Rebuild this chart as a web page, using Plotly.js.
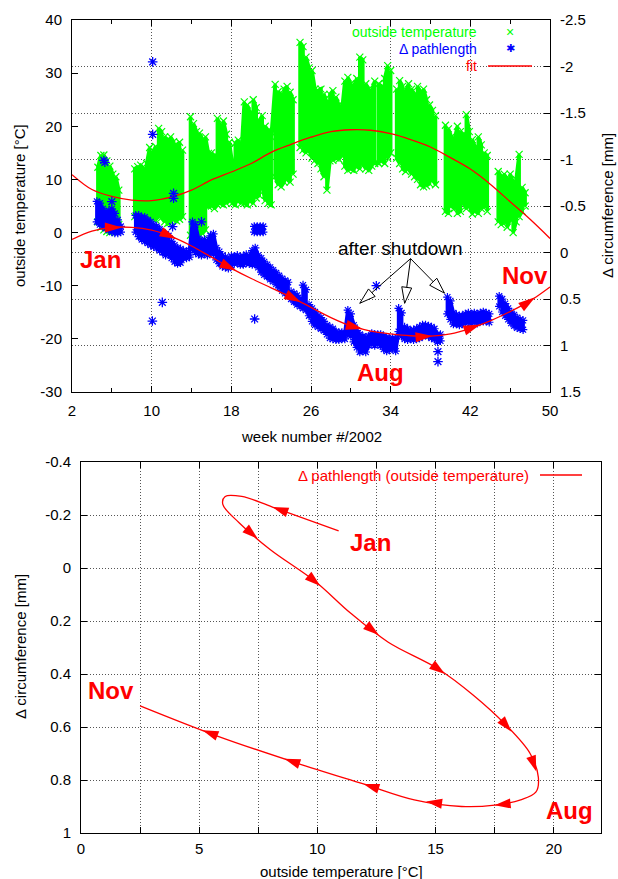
<!DOCTYPE html>
<html><head><meta charset="utf-8">
<script src="https://cdn.plot.ly/plotly-3.0.1.min.js"></script>
<style>html,body{margin:0;padding:0;background:#fff}#chart{width:618px;height:879px}</style>
</head><body><div id="chart"></div>
<script>
// ---------------- data ----------------
// fitted curves, sampled every 2 weeks
const fitWeeks = [2,4,6,8,10,12,14,16,18,20,22,24,26,28,30,32,34,36,38,40,42,44,46,48,50];
const fitTemp  = [10.9,8.1,6.8,6.1,6.0,6.7,8.0,9.9,11.4,13.0,15.1,16.6,17.95,19.0,19.35,19.25,18.6,17.5,16.1,14.1,11.95,9.1,5.8,2.5,-1.1];
const fitPath  = [-0.14,-0.23,-0.27,-0.27,-0.24,-0.17,-0.07,0.05,0.17,0.28,0.38,0.48,0.59,0.70,0.79,0.845,0.875,0.895,0.90,0.875,0.815,0.735,0.635,0.52,0.37];
const loopLastWeek = 48;

// outside temperature: daily low / high columns
const tempWeeks = [4.6,4.9,5.2,5.5,5.8,6.1,6.4,6.7,
 8.3,8.6,8.9,9.2,9.5,9.8,10.1,10.4,10.7,11.0,11.3,11.6,11.9,12.2,12.5,12.8,13.1,
 13.9,14.2,14.5,14.8,15.1,15.4,15.7,16.0,16.3,16.6,16.9,17.2,17.5,17.8,
 18.1,18.4,18.7,19.0,19.3,19.6,19.9,20.2,20.5,20.8,21.1,21.4,21.7,22.0,22.4,22.7,23.0,23.3,23.6,23.9,24.2,
 24.9,25.2,25.5,25.8,26.1,26.4,26.7,27.0,27.3,27.6,27.9,28.2,28.5,28.8,29.1,29.4,29.7,30.0,30.3,30.6,30.9,31.2,31.5,31.8,32.1,32.4,32.8,33.1,33.4,33.7,34.0,
 34.6,34.9,35.2,35.5,35.8,36.1,36.4,36.7,37.0,37.3,37.6,37.9,38.2,38.5,
 39.5,39.8,40.1,40.4,40.7,41.0,41.3,41.6,41.9,42.2,42.5,42.8,43.1,43.4,43.7,
 44.8,45.1,45.4,45.7,46.0,46.3,46.6,46.9,47.2,47.5];
const tempLow = [2.0,1.0,0.5,0.2,0.0,0.5,1.0,1.5,
 3.0,2.8,3.0,2.5,2.6,2.4,2.6,2.4,3.0,2.8,2.0,1.7,2.0,2.4,2.2,2.5,3.0,
 -0.5,-0.8,-0.5,-0.8,-0.2,0.5,4.9,5.0,4.5,5.2,5.5,5.2,5.5,6.0,
 5.5,5.2,6.0,5.5,5.5,5.2,6.0,5.5,6.5,7.0,8.6,6.0,5.5,5.2,10.5,9.0,8.6,9.5,10.0,9.5,11.0,
 16.0,15.5,15.0,15.5,14.0,13.6,13.0,12.0,10.5,8.0,13.5,13.6,14.0,13.8,14.5,12.5,11.7,12.0,11.7,12.5,12.0,13.0,12.0,11.7,12.5,13.0,13.0,13.5,13.0,14.0,15.0,
 14.0,13.0,12.0,11.5,12.0,11.0,10.5,10.0,9.0,8.6,8.8,9.2,10.0,9.0,
 4.0,3.6,5.0,4.5,3.6,4.0,5.5,4.5,5.0,3.5,4.0,3.6,4.5,5.0,4.0,
 2.0,1.5,2.0,1.0,2.5,0.0,2.0,3.0,4.0,5.0];
const tempHigh = [12.3,14.5,14.6,13.5,12.5,11.0,10.5,8.0,
 12.0,12.4,12.7,12.0,13.0,16.0,15.0,16.2,19.6,19.0,18.0,17.5,18.0,17.1,16.5,17.0,15.5,
 21.8,20.5,19.0,18.7,17.5,18.0,14.9,15.0,14.5,21.5,20.0,21.0,18.5,17.0,
 13.0,16.8,17.4,15.0,24.6,24.0,22.5,25.0,23.5,21.0,22.0,20.0,19.2,18.0,27.9,26.5,26.0,27.0,27.5,26.4,25.0,
 35.8,35.0,33.0,31.0,30.5,27.0,26.7,27.0,26.0,24.5,26.0,26.7,25.5,24.0,23.0,28.5,29.2,28.0,27.5,29.0,33.0,32.5,28.0,27.0,26.5,28.5,28.0,27.5,29.0,31.4,30.5,
 27.0,28.6,27.5,26.5,28.0,27.0,26.0,27.5,26.5,27.0,25.0,24.0,23.0,22.0,
 20.2,19.5,18.0,17.5,20.0,19.0,18.5,22.2,19.0,17.5,16.0,18.0,16.5,15.0,14.5,
 11.5,10.5,11.0,10.0,11.0,9.5,10.0,14.7,8.5,7.5];

// delta pathlength (mm on the circumference axis): low / high columns
const pathWeeks = [4.5,4.8,5.1,5.4,5.7,6.0,6.3,6.6,6.9,
 8.4,8.7,9.0,9.3,9.6,9.9,10.2,10.5,10.8,11.1,11.4,11.7,12.0,12.3,12.6,12.9,13.2,13.5,13.8,
 14.1,14.4,14.7,15.0,15.3,15.6,15.9,16.2,16.5,16.8,17.1,17.4,17.7,18.0,18.3,18.6,18.9,19.2,19.5,19.8,20.1,20.4,20.7,
 21.0,21.3,21.6,21.9,22.2,22.5,22.8,23.1,23.4,23.7,24.0,24.3,24.6,24.9,25.2,25.5,25.8,26.1,26.4,26.7,27.0,27.3,27.6,27.9,28.2,28.5,28.8,29.1,29.4,
 29.7,30.0,30.3,30.6,30.9,31.2,31.5,31.8,32.1,32.4,32.7,33.0,33.3,33.6,33.9,34.2,34.5,
 34.8,35.1,35.4,35.7,36.0,36.3,36.6,36.9,37.2,37.5,37.8,38.1,38.4,38.7,39.0,
 39.7,40.0,40.3,40.6,40.9,41.2,41.5,41.8,42.1,42.4,42.7,43.0,43.3,43.6,43.9,
 44.9,45.2,45.5,45.8,46.1,46.4,46.7,47.0,47.3];
const pathLow = [-0.55,-0.53,-0.47,-0.43,-0.45,-0.47,-0.42,-0.35,-0.28,
 -0.40,-0.40,-0.38,-0.38,-0.35,-0.33,-0.30,-0.28,-0.25,-0.22,-0.20,-0.18,-0.12,-0.08,-0.05,-0.04,-0.02,-0.01,-0.02,
 -0.33,-0.30,-0.15,-0.12,-0.14,-0.12,-0.18,-0.20,-0.05,-0.01,0.03,0.05,0.08,0.04,0.04,0.03,0.05,0.04,0.02,0.05,-0.02,-0.05,0.03,
 0.06,0.10,0.13,0.16,0.19,0.22,0.25,0.28,0.30,0.32,0.42,0.44,0.46,0.50,0.35,0.40,0.56,0.60,0.64,0.68,0.70,0.74,0.78,0.80,0.82,0.85,0.86,0.86,0.87,
 0.62,0.66,0.78,0.84,0.88,0.90,0.92,0.90,0.87,0.88,0.88,0.88,0.90,0.91,0.93,0.92,0.93,
 0.60,0.65,0.80,0.82,0.84,0.83,0.82,0.80,0.78,0.78,0.79,0.80,0.82,0.88,0.88,
 0.48,0.52,0.65,0.67,0.68,0.68,0.66,0.65,0.66,0.65,0.66,0.65,0.64,0.65,0.66,
 0.47,0.50,0.55,0.60,0.64,0.67,0.70,0.72,0.73];
const pathHigh = [-0.33,-0.30,-0.28,-0.26,-0.24,-0.22,-0.21,-0.21,-0.22,
 -0.22,-0.17,-0.14,-0.12,-0.10,-0.08,-0.06,-0.05,-0.02,0.00,0.03,0.02,0.06,0.10,0.12,0.11,0.06,0.06,0.05,
 -0.05,0.00,0.02,0.03,0.01,0.03,0.00,0.02,0.08,0.12,0.15,0.16,0.17,0.14,0.12,0.11,0.13,0.13,0.11,0.12,0.13,0.13,0.16,
 0.21,0.24,0.26,0.29,0.31,0.34,0.38,0.41,0.44,0.46,0.50,0.53,0.56,0.58,0.60,0.62,0.68,0.74,0.78,0.80,0.82,0.84,0.88,0.92,0.93,0.94,0.94,0.93,0.93,
 0.88,0.90,0.96,1.02,1.07,1.06,1.07,1.00,0.98,1.00,0.98,1.00,1.04,1.06,1.05,1.03,1.06,
 0.85,0.90,0.93,0.94,0.93,0.94,0.93,0.92,0.90,0.89,0.90,0.92,0.93,0.96,0.95,
 0.66,0.72,0.77,0.77,0.78,0.77,0.76,0.75,0.76,0.75,0.76,0.74,0.74,0.74,0.75,
 0.58,0.64,0.68,0.72,0.76,0.79,0.81,0.82,0.83];
// separate short block and isolated points
const blockWeeks = [20.3,20.6,20.9,21.2];
const blockLow   = [-0.28,-0.28,-0.28,-0.28];
const blockHigh  = [-0.22,-0.22,-0.22,-0.22];
const pathOutWeeks = [5.2,5.3,6.0,10.1,10.1,10.07,11.07,12.1,12.2,12.2,15.0,20.34,32.56,38.75,38.75];
const pathOutVals  = [-0.99,-0.97,-0.547,-2.05,-1.27,0.737,0.536,-0.278,-0.636,-0.583,-0.33,0.715,0.357,1.066,1.174];

// arrow marks along the fitted curve (week at which each head sits)
const topArrowWeeks = [7,12.5,18.5,25,31.2,38.2,43,48.5];
const loopArrowWeeks = [4,13.2,16.3,19.5,22.4,26.5,29.5,36,39.5,42,44.3,46.4];

// tick labels
const weekTicks = [2,10,18,26,34,42,50];
const tempTicks = [-30,-20,-10,0,10,20,30,40];
const tempTickText = ['-30','-20','-10','0','10','20','30','40'];
const circTicks = [-2.5,-2,-1.5,-1,-0.5,0,0.5,1,1.5];
const circTickText = ['-2.5','-2','-1.5','-1','-0.5','0','0.5','1','1.5'];
const loopXTicks = [0,2.5,5,7.5,10,12.5,15,17.5,20];
const loopXTickText = ['0','','5','','10','','15','','20'];
const loopYTicks = [-0.4,-0.2,0,0.2,0.4,0.6,0.8,1];
const loopYTickText = ['-0.4','-0.2','0','0.2','0.4','0.6','0.8','1'];

// ---------------- geometry / helpers ----------------
const W = 618, H = 879;
const TOP = {l:72, r:550, t:20, b:392};
const BOT = {l:81, r:601, t:462, b:833};
const FONT = 'Liberation Sans, Arial, Helvetica, sans-serif';
const RED = '#ff0000', GREEN = '#00ff00', BLUE = '#0000ff';
const px = v => v / W, py = v => 1 - v / H;

function zigzag(ws, lo, hi, gap) {
  const x = [], y = [];
  for (let i = 0; i < ws.length; i++) {
    if (i > 0 && ws[i] - ws[i-1] > gap) { x.push(null); y.push(null); }
    const a = i % 2 ? hi[i] : lo[i], b = i % 2 ? lo[i] : hi[i];
    x.push(ws[i], ws[i]); y.push(a, b);
  }
  return {x, y};
}
function at(arr, w) {
  let i = 0;
  while (i < fitWeeks.length - 2 && fitWeeks[i+1] < w) i++;
  const t = (w - fitWeeks[i]) / (fitWeeks[i+1] - fitWeeks[i]);
  return arr[i] * (1 - t) + arr[i+1] * t;
}
// triangle path in pixel units relative to the tip (y up), direction given in screen px
function headPath(dxs, dys, L, Wd) {
  const len = Math.hypot(dxs, dys) || 1, ux = dxs / len, uy = dys / len;
  const bx = -L * ux, by = -L * uy, pxp = -uy, pyp = ux, h = Wd / 2;
  const c1 = [bx + h * pxp, by + h * pyp], c2 = [bx - h * pxp, by - h * pyp];
  return 'M0,0L' + c1[0].toFixed(2) + ',' + (-c1[1]).toFixed(2) + 'L' + c2[0].toFixed(2) + ',' + (-c2[1]).toFixed(2) + 'Z';
}
function curveHead(xref, yref, xs, ys, w, kx, ky, L, Wd) {
  const xa = at(xs, w - 0.5), ya = at(ys, w - 0.5), xb = at(xs, w + 0.5), yb = at(ys, w + 0.5);
  return {type:'path', xref, yref, xsizemode:'pixel', ysizemode:'pixel',
    xanchor: at(xs, w), yanchor: at(ys, w), path: headPath((xb - xa) * kx, (yb - ya) * ky, L, Wd),
    fillcolor: RED, line:{width:0}, layer:'above'};
}

const kxTop = (TOP.r - TOP.l) / 48, kyCirc = (TOP.b - TOP.t) / 4, kyTemp = -(TOP.b - TOP.t) / 70;
const kxBot = (BOT.r - BOT.l) / 22, kyBot = (BOT.b - BOT.t) / 1.4;

// ---------------- traces ----------------
const g = zigzag(tempWeeks, tempLow, tempHigh, 0.45);
const b = zigzag(pathWeeks, pathLow, pathHigh, 0.45);
const bb = zigzag(blockWeeks, blockLow, blockHigh, 0.45);
const loopIdx = fitWeeks.filter(w => w <= loopLastWeek).length;

const traces = [
  {x: g.x, y: g.y, xaxis:'x', yaxis:'y', mode:'lines+markers', connectgaps:false,
   line:{color:GREEN, width:3.6}, marker:{symbol:'x-thin-open', size:7, color:GREEN, line:{width:1.2}}, showlegend:false},
  {x: fitWeeks, y: fitTemp, xaxis:'x', yaxis:'y', mode:'lines', line:{color:RED, width:1.3, shape:'spline', smoothing:1}, showlegend:false},
  {x: b.x, y: b.y, xaxis:'x', yaxis:'y2', mode:'lines+markers', connectgaps:false,
   line:{color:BLUE, width:3.6}, marker:{symbol:'asterisk-open', size:7, color:BLUE, line:{width:1.2}}, showlegend:false},
  {x: bb.x, y: bb.y, xaxis:'x', yaxis:'y2', mode:'lines+markers',
   line:{color:BLUE, width:3.6}, marker:{symbol:'asterisk-open', size:7, color:BLUE, line:{width:1.2}}, showlegend:false},
  {x: pathOutWeeks, y: pathOutVals, xaxis:'x', yaxis:'y2', mode:'markers',
   marker:{symbol:'asterisk-open', size:8, color:BLUE, line:{width:1.3}}, showlegend:false},
  {x: fitWeeks, y: fitPath, xaxis:'x', yaxis:'y2', mode:'lines', line:{color:RED, width:1.3, shape:'spline', smoothing:1}, showlegend:false},
  {x: fitTemp.slice(0, loopIdx), y: fitPath.slice(0, loopIdx), xaxis:'x2', yaxis:'y3', mode:'lines',
   line:{color:RED, width:1.3, shape:'spline', smoothing:1}, showlegend:false}
];

// ---------------- shapes ----------------
const shapes = [];
topArrowWeeks.forEach(w => shapes.push(curveHead('x', 'y2', fitWeeks, fitPath, w, kxTop, kyCirc, 17, 10)));
loopArrowWeeks.forEach(w => shapes.push(curveHead('x2', 'y3', fitTemp, fitPath, w, kxBot, kyBot, 16, 10)));
// "after shutdown" pointers (hollow heads)
const shutStart = [36.0, -4.9];
const shutTips = [[30.9, -13.3], [35.4, -13.3], [39.4, -11.4]];
shutTips.forEach(t => {
  shapes.push({type:'line', xref:'x', yref:'y', x0: shutStart[0], y0: shutStart[1], x1: t[0], y1: t[1], line:{color:'#000', width:1}, layer:'above'});
  shapes.push({type:'path', xref:'x', yref:'y', xsizemode:'pixel', ysizemode:'pixel', xanchor: t[0], yanchor: t[1],
    path: headPath((t[0] - shutStart[0]) * kxTop, (t[1] - shutStart[1]) * kyTemp, 16, 10),
    fillcolor:'#fff', line:{color:'#000', width:1}, layer:'above'});
});
// legend samples
shapes.push({type:'line', xref:'paper', yref:'paper', x0: px(488), x1: px(532), y0: py(66), y1: py(66), line:{color:RED, width:1.3}});
shapes.push({type:'line', xref:'paper', yref:'paper', x0: px(540), x1: px(582), y0: py(475), y1: py(475), line:{color:RED, width:1.3}});

// ---------------- annotations ----------------
const ann = [];
function txt(x, y, text, opt) {
  ann.push(Object.assign({x, y, text, showarrow:false, xanchor:'center', yanchor:'middle', borderpad:0,
    font:{family:FONT, size:15, color:'#000'}}, opt || {}));
}
// axis titles
txt(px(19), py(206), 'outside temperature [°C]', {xref:'paper', yref:'paper', textangle:-90});
txt(px(607), py(206), 'Δ circumference [mm]', {xref:'paper', yref:'paper', textangle:-90});
txt(px(311), py(436), 'week number #/2002', {xref:'paper', yref:'paper'});
txt(px(20), py(647), 'Δ circumference [mm]', {xref:'paper', yref:'paper', textangle:-90});
txt(px(341), py(871), 'outside temperature [°C]', {xref:'paper', yref:'paper'});
// legends
const legFont = c => ({family:FONT, size:14, color:c});
txt(px(478), py(32), 'outside temperature', {xref:'paper', yref:'paper', xanchor:'right', font:legFont(GREEN)});
txt(px(478), py(49), 'Δ pathlength', {xref:'paper', yref:'paper', xanchor:'right', font:legFont(BLUE)});
txt(px(478), py(66), 'fit', {xref:'paper', yref:'paper', xanchor:'right', font:legFont(RED)});
txt(px(510), py(32), '×', {xref:'paper', yref:'paper', font:legFont(GREEN)});
txt(px(510), py(49), '✱', {xref:'paper', yref:'paper', font:{family:'DejaVu Sans', size:11, color:BLUE}});
txt(px(530), py(475), 'Δ pathlength (outside temperature)', {xref:'paper', yref:'paper', xanchor:'right', font:{family:FONT, size:15, color:RED}});
// month labels
const bold = {family:'Liberation Sans, Arial, sans-serif', size:24, color:RED, weight:'bold'};
txt(4.9, -5.0, '<b>Jan</b>', {xref:'x', yref:'y', font:bold});
txt(33.0, -26.3, '<b>Aug</b>', {xref:'x', yref:'y', font:bold});
txt(47.5, -8.0, '<b>Nov</b>', {xref:'x', yref:'y', font:bold});
txt(35.0, -3.0, 'after shutdown', {xref:'x', yref:'y', font:{family:FONT, size:19, color:'#000'}});
txt(12.25, -0.098, '<b>Jan</b>', {xref:'x2', yref:'y3', font:bold});
txt(1.25, 0.463, '<b>Nov</b>', {xref:'x2', yref:'y3', font:bold});
txt(20.67, 0.916, '<b>Aug</b>', {xref:'x2', yref:'y3', font:bold});

// ---------------- layout ----------------
const tickFont = {family:FONT, size:15, color:'#000'};
const gridStyle = {gridcolor:'#555', griddash:'1px,2px', gridwidth:1};
const layout = {
  width: W, height: H, margin:{l:0, r:0, t:0, b:0}, paper_bgcolor:'#fff', plot_bgcolor:'#fff',
  showlegend:false, font:{family:FONT},
  xaxis: Object.assign({domain:[px(TOP.l), px(TOP.r)], anchor:'y', range:[2,50], tickmode:'array', tickvals:weekTicks,
    ticks:'inside', ticklen:6, tickcolor:'#000', showline:true, linecolor:'#000', linewidth:1, mirror:'ticks',
    showgrid:true, zeroline:false, tickfont:tickFont, ticklabelstandoff:5,
    minor:{tickmode:'linear', tick0:6, dtick:8, ticks:'inside', ticklen:4, tickcolor:'#000', showgrid:false}}, gridStyle),
  yaxis: {domain:[py(TOP.b), py(TOP.t)], anchor:'x', range:[-30,40], tickmode:'array', tickvals:tempTicks, ticktext:tempTickText,
    ticks:'inside', ticklen:6, tickcolor:'#000', showline:true, linecolor:'#000', linewidth:1, showgrid:false, zeroline:false,
    tickfont:tickFont, ticklabelstandoff:6},
  yaxis2: Object.assign({overlaying:'y', side:'right', anchor:'x', range:[1.5,-2.5], tickmode:'array', tickvals:circTicks, ticktext:circTickText,
    ticks:'inside', ticklen:6, tickcolor:'#000', showline:true, linecolor:'#000', linewidth:1, showgrid:true, zeroline:false,
    tickfont:tickFont, ticklabelstandoff:6}, gridStyle),
  xaxis2: Object.assign({domain:[px(BOT.l), px(BOT.r)], anchor:'y3', range:[0,22], tickmode:'array', tickvals:loopXTicks, ticktext:loopXTickText,
    ticks:'inside', ticklen:6, tickcolor:'#000', showline:true, linecolor:'#000', linewidth:1, mirror:'ticks',
    showgrid:true, zeroline:false, tickfont:tickFont, ticklabelstandoff:2}, gridStyle),
  yaxis3: Object.assign({domain:[py(BOT.b), py(BOT.t)], anchor:'x2', range:[1,-0.4], tickmode:'array', tickvals:loopYTicks, ticktext:loopYTickText,
    ticks:'inside', ticklen:6, tickcolor:'#000', showline:true, linecolor:'#000', linewidth:1, mirror:'ticks',
    showgrid:true, zeroline:false, tickfont:tickFont, ticklabelstandoff:6}, gridStyle),
  shapes, annotations: ann
};
Plotly.newPlot('chart', traces, layout, {staticPlot:true, displayModeBar:false});
</script></body></html>
